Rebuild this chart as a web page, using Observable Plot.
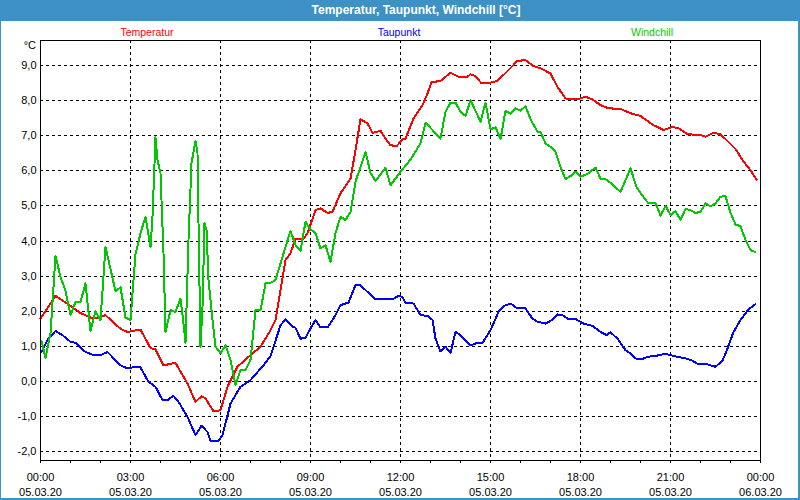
<!DOCTYPE html>
<html>
<head>
<meta charset="utf-8">
<script src="https://cdn.jsdelivr.net/npm/d3@7"></script>
<script src="https://cdn.jsdelivr.net/npm/@observablehq/plot@0.6"></script>
<style>
  html, body { margin: 0; padding: 0; background: #ffffff; width: 800px; height: 500px; overflow: hidden; }
  body { position: relative; font-family: "Liberation Sans", Arial, sans-serif; }
  #titlebar { position: absolute; left: 0; top: 0; width: 800px; height: 21px; background: #3d91c4; }
  #title { position: absolute; left: 416px; top: 0; transform: translateX(-50%); line-height: 20px; color: #ffffff; font-weight: bold; font-size: 12px; white-space: nowrap; }
  #chart { position: absolute; left: 0; top: 20px; }
  .leg { position: absolute; top: 25px; line-height: 14px; font-size: 10.5px; transform: translateX(-50%); white-space: nowrap; }
  #unit { position: absolute; left: 0; width: 36px; text-align: right; top: 39px; line-height 14px; font-size: 11px; color: #000; }
  #border { position: absolute; left: 0; top: 0; width: 797px; height: 498px; border-left: 1px solid #3d91c4; border-right: 2px solid #3d91c4; border-bottom: 2px solid #3d91c4; pointer-events: none; }
</style>
</head>
<body>
<div id="titlebar"><div id="title">Temperatur, Taupunkt, Windchill [°C]</div></div>
<div id="chart"></div>
<div class="leg" style="left:147px;color:#ff0000">Temperatur</div>
<div class="leg" style="left:399px;color:#0000ff">Taupunkt</div>
<div class="leg" style="left:652px;color:#00c800">Windchill</div>
<div id="unit">°C</div>
<div id="border"></div>
<script>
// ---- Data (minutes since 05.03.20 00:00, °C) ----
const tempMinutes = [0,30,60,80,100,114,130,160,174,200,220,230,246,270,294,310,322,330,346,360,374,394,420,440,460,470,490,500,510,526,534,550,560,574,584,600,620,630,640,654,664,680,690,700,712,724,730,746,764,774,782,800,820,836,854,860,870,882,894,914,936,954,970,986,1000,1020,1034,1050,1074,1090,1104,1120,1136,1160,1180,1200,1226,1246,1264,1276,1294,1320,1330,1346,1360,1374,1390,1406,1420,1432];
const tempValues  = [1.79,2.44,2.15,1.95,1.82,1.81,1.89,1.50,1.41,1.48,0.95,0.91,0.46,0.53,-0.06,-0.58,-0.42,-0.48,-0.85,-0.82,-0.15,0.42,0.75,0.99,1.46,1.75,3.46,3.65,4.07,4.07,4.22,4.88,4.93,4.80,4.83,5.36,5.78,6.59,7.47,7.35,7.08,7.14,6.92,6.73,6.70,6.89,6.92,7.49,7.87,8.20,8.52,8.56,8.79,8.68,8.68,8.75,8.70,8.49,8.49,8.56,8.87,9.13,9.15,8.98,8.92,8.77,8.39,8.06,8.03,8.11,8.03,7.87,7.78,7.76,7.64,7.56,7.30,7.16,7.25,7.21,7.04,7.02,6.97,7.08,7.04,6.85,6.62,6.26,6.02,5.75];

const dewMinutes = [2,14,30,44,60,70,90,106,120,134,160,174,190,200,216,230,244,254,266,276,294,310,322,334,340,356,364,380,400,420,446,460,480,490,504,510,520,530,540,550,560,574,586,600,616,630,640,654,670,704,716,724,730,746,760,774,784,790,800,810,820,830,840,860,874,884,900,916,926,940,954,970,984,994,1010,1020,1034,1044,1056,1070,1086,1104,1120,1132,1140,1154,1170,1180,1192,1204,1214,1234,1250,1260,1274,1290,1304,1316,1334,1344,1350,1364,1374,1386,1400,1416,1430];
const dewValues  = [0.84,1.18,1.44,1.32,1.13,1.10,0.84,0.75,0.75,0.84,0.46,0.37,0.42,0.40,-0.01,-0.15,-0.53,-0.53,-0.41,-0.58,-1.01,-1.53,-1.26,-1.44,-1.69,-1.69,-1.53,-0.63,-0.15,0.04,0.46,0.72,1.60,1.77,1.56,1.53,1.22,1.24,1.51,1.75,1.54,1.54,1.79,2.17,2.25,2.74,2.74,2.55,2.34,2.34,2.44,2.41,2.24,2.22,1.89,1.87,1.75,1.22,0.86,0.99,0.81,1.41,1.32,1.03,1.10,1.10,1.46,1.98,2.15,2.22,2.08,2.08,1.79,1.70,1.65,1.72,1.91,1.89,1.78,1.78,1.65,1.58,1.41,1.32,1.40,1.22,0.89,0.80,0.64,0.64,0.70,0.74,0.79,0.75,0.70,0.66,0.59,0.49,0.49,0.44,0.42,0.59,0.94,1.41,1.75,2.05,2.20];

const chillMinutes = [2,10,20,30,40,50,60,70,80,90,100,110,120,130,150,160,170,180,190,200,210,220,224,230,234,240,246,250,260,270,280,286,290,296,302,306,310,314,316,320,324,328,332,336,344,350,360,370,380,390,400,410,420,430,440,450,460,470,484,500,510,520,530,540,550,560,570,580,590,600,610,620,630,650,660,670,690,700,720,740,760,770,800,810,820,830,840,850,860,880,890,900,910,920,930,940,950,960,970,980,994,1000,1010,1024,1030,1040,1050,1060,1070,1080,1094,1110,1120,1130,1140,1160,1170,1180,1192,1200,1216,1230,1240,1250,1260,1270,1280,1290,1300,1310,1320,1330,1340,1350,1360,1370,1380,1390,1400,1410,1420,1430];
const chillValues  = [1.15,0.68,1.37,3.58,2.98,2.58,1.89,2.27,2.27,2.79,1.43,2.00,1.74,3.83,2.57,2.68,1.82,1.75,3.62,4.22,4.69,3.83,4.69,6.95,6.30,5.93,3.65,1.41,2.03,1.98,2.36,1.65,1.10,4.03,6.21,6.54,6.85,6.50,4.50,0.99,2.13,4.50,4.31,2.89,1.75,0.99,0.80,1.03,0.61,-0.11,0.32,0.32,0.62,2.03,2.03,2.79,2.81,2.89,3.55,4.29,3.88,3.72,4.55,4.33,4.22,3.79,3.88,3.41,4.22,4.69,4.60,4.83,5.69,6.54,5.94,5.71,6.09,5.59,5.97,6.32,6.78,7.37,6.92,7.68,7.94,7.94,7.68,7.56,8.01,7.40,7.94,7.18,7.24,6.90,7.71,7.62,7.78,7.71,7.84,7.47,7.11,7.11,6.78,6.64,6.54,6.11,5.76,5.85,5.97,5.83,5.91,6.09,5.78,5.76,5.66,5.40,5.73,6.07,5.54,5.37,5.07,5.09,4.72,5.00,4.74,4.85,4.60,4.91,4.88,4.80,4.83,5.07,4.99,5.07,5.26,5.28,4.80,4.47,4.42,4.03,3.74,3.68];

const yTicks = [-2,-1,0,1,2,3,4,5,6,7,8,9];
const xTickHours = [0,3,6,9,12,15,18,21,24];
const minorTickHours = d3.range(0, 25);

// ---- helpers ----
const t0 = Date.UTC(2020, 2, 5, 0, 0);
const toDate = m => new Date(t0 + m * 60000);
const series = (mins, vals) => mins.map((m, i) => ({t: toDate(m), v: vals[i]}));
const temp = series(tempMinutes, tempValues);
const dew = series(dewMinutes, dewValues);
const chill = series(chillMinutes, chillValues);
const xTicks = xTickHours.map(h => toDate(h * 60));
const minorTicks = minorTickHours.map(h => toDate(h * 60));
const fmtT = d3.utcFormat("%H:%M"), fmtD = d3.utcFormat("%d.%m.%y");

const chart = Plot.plot({
  width: 800,
  height: 480,
  marginTop: 20,
  marginBottom: 40,
  marginLeft: 40,
  marginRight: 40,
  style: {fontFamily: "Liberation Sans, Arial, sans-serif", fontSize: "11px", background: "transparent", color: "#000", overflow: "visible"},
  x: {type: "utc", domain: [toDate(0), toDate(1440)]},
  y: {domain: [-2.25, 9.71]},
  marks: [
    Plot.gridY(yTicks, {stroke: "#000", strokeOpacity: 1, strokeDasharray: "3,3", shapeRendering: "crispEdges"}),
    Plot.gridX(xTicks, {stroke: "#000", strokeOpacity: 1, strokeDasharray: "3,3", shapeRendering: "crispEdges"}),
    Plot.axisY(yTicks, {tickSize: 0, tickPadding: 4, fontSize: 11, label: null, tickFormat: d => d.toFixed(1).replace(".", ",")}),
    Plot.axisX(minorTicks, {tickSize: 3, tickFormat: () => "", label: null, shapeRendering: "crispEdges"}),
    Plot.axisX(xTicks, {tickSize: 0, tickPadding: 9, fontSize: 11, lineHeight: 1.43, label: null, tickFormat: d => fmtT(d) + "\n" + fmtD(d)}),
    Plot.line(dew, {x: "t", y: "v", stroke: "#0000ff", strokeWidth: 2, shapeRendering: "crispEdges"}),
    Plot.line(temp, {x: "t", y: "v", stroke: "#ff0000", strokeWidth: 2, shapeRendering: "crispEdges"}),
    Plot.line(chill, {x: "t", y: "v", stroke: "#00c800", strokeWidth: 2, shapeRendering: "crispEdges"}),
    Plot.frame({stroke: "#000", shapeRendering: "crispEdges"})
  ]
});
document.getElementById("chart").appendChild(chart);
</script>
</body>
</html>
